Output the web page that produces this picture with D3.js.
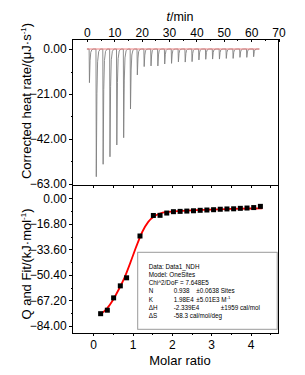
<!DOCTYPE html>
<html><head><meta charset="utf-8">
<script src="https://cdn.jsdelivr.net/npm/d3@7"></script>
<style>
body{margin:0;background:#fff}
svg{display:block}
text{font-family:"Liberation Sans",Arial,sans-serif;fill:#000}
.axis path,.axis line{stroke:#000;stroke-width:1;shape-rendering:crispEdges}
</style>
</head><body>
<svg id="c" width="305" height="375"></svg>
<script>
// ---------- data ----------
const injectionTimes = [0.8,3.3,5.8,8.3,10.8,13.3,15.8,18.3,20.8,23.3,25.8,28.3,30.8,33.3,35.8,38.3,40.8,43.3,45.8,48.3,50.8,53.3,55.8,58.3,60.8];
const peakDepths = [-15.7,-59.6,-53.8,-50.3,-44.8,-41.4,-28.0,-12.1,-8.2,-7.9,-7.9,-7.0,-6.7,-6.0,-6.1,-5.9,-5.1,-4.8,-4.7,-4.7,-4.4,-4.4,-3.9,-3.9,-3.6];
const baselineRange = [0, 63];
const molarRatio = [0.19,0.36,0.52,0.69,0.85,1.19,1.53,1.70,1.87,2.04,2.21,2.38,2.55,2.72,2.89,3.06,3.23,3.40,3.57,3.74,3.91,4.08,4.25];
const heatQ = [-75.9,-73.6,-65.5,-57.6,-52.3,-24.8,-11.3,-11.2,-9.7,-8.8,-8.6,-8.4,-8.2,-7.9,-7.7,-7.5,-7.2,-7.0,-6.9,-6.6,-6.4,-6.1,-5.3];
const fitRatio = [0.19,0.35,0.50,0.65,0.80,0.95,1.10,1.25,1.40,1.55,1.70,1.90,2.20,2.60,3.00,3.50,4.00,4.30];
const fitQ = [-76.2,-72.5,-67.0,-60.0,-52.0,-42.0,-31.5,-22.0,-15.5,-11.8,-10.0,-9.0,-8.3,-7.8,-7.4,-7.0,-6.7,-6.6];
const timeTicks = [0,10,20,30,40,50,60,70];
const timeMinor = [5,15,25,35,45,55,65];
const heatTicks = [0,-21,-42,-63];
const heatMinor = [-10.5,-31.5,-52.5];
const ratioTicks = [0,1,2,3,4];
const ratioMinor = [0.5,1.5,2.5,3.5,4.5];
const qTicks = [0,-16.8,-33.6,-50.4,-67.2,-84];
const qMinor = [-8.4,-25.2,-42,-58.8,-75.6];
const legendRows = [
  ["Data: Data1_NDH"],
  ["Model: OneSites"],
  ["Chi^2/DoF = 7.648E5"],
  ["N","0.938","±0.0638 Sites"],
  ["K","1.98E4","±5.01E3 M","-1"],
  ["ΔH","-2.339E4","","±1959 cal/mol"],
  ["ΔS","-58.3 cal/mol/deg"]
];
// peak profile template (relative time, fraction of depth) – rendering style
const peakShape = [[0,0],[0.12,1],[0.35,0.35],[0.6,0.1],[1.0,0.02],[1.6,0]];

// ---------- layout ----------
const svg = d3.select("#c");
const L = 72.7, R = 278.5, T1 = 39, B1 = 185, B2 = 333.3;

const xT = d3.scaleLinear().domain([-5.2, 70]).range([L, R]);
const yH = d3.scaleLinear().domain([4.67, -63.47]).range([T1, B1]);
const xR = d3.scaleLinear().domain([-0.52, 4.71]).range([L, R]);
const yQ = d3.scaleLinear().domain([8.75, -88.8]).range([B1, B2]);

const fmt2 = d3.format(".2f");

// frames
svg.append("rect").attr("x",L).attr("y",T1).attr("width",R-L).attr("height",B1-T1)
  .attr("fill","none").attr("stroke","#000").attr("shape-rendering","crispEdges");
svg.append("rect").attr("x",L).attr("y",B1).attr("width",R-L).attr("height",B2-B1)
  .attr("fill","none").attr("stroke","#000").attr("shape-rendering","crispEdges");

function ax(gen, tr){
  const g = svg.append("g").attr("class","axis").attr("transform",tr).call(gen);
  g.select(".domain").remove();
  g.selectAll("text").style("font-size","12px").style("font-family",'"Liberation Sans",Arial,sans-serif');
  return g;
}
// top panel axes (ticks pointing inward)
ax(d3.axisTop(xT).tickValues(timeTicks).tickSize(-3).tickPadding(2.5).tickFormat(d3.format("d")), `translate(0,${T1})`);
ax(d3.axisTop(xT).tickValues(timeMinor).tickSize(-2).tickFormat(""), `translate(0,${T1})`);
ax(d3.axisLeft(yH).tickValues(heatTicks).tickSize(4).tickPadding(2).tickFormat(fmt2), `translate(${L},0)`);
ax(d3.axisLeft(yH).tickValues(heatMinor).tickSize(2).tickFormat(""), `translate(${L},0)`);
// bottom panel axes
ax(d3.axisBottom(xR).tickValues(ratioTicks).tickSize(3).tickPadding(4.5).tickFormat(d3.format("d")), `translate(0,${B2})`);
ax(d3.axisBottom(xR).tickValues(ratioMinor).tickSize(2).tickFormat(""), `translate(0,${B2})`);
ax(d3.axisBottom(xR).tickValues(ratioTicks.concat(ratioMinor)).tickSize(3).tickFormat(""), `translate(0,${B1})`);
ax(d3.axisLeft(yQ).tickValues(qTicks).tickSize(4).tickPadding(2).tickFormat(fmt2), `translate(${L},0)`);
ax(d3.axisLeft(yQ).tickValues(qMinor).tickSize(2).tickFormat(""), `translate(${L},0)`);

// thermogram
const thermo = [[baselineRange[0],0]];
injectionTimes.forEach((t,i)=>{
  peakShape.forEach(([dt,f])=>thermo.push([t+dt, peakDepths[i]*f]));
});
thermo.push([baselineRange[1],0]);
const lineT = d3.line().x(d=>xT(d[0])).y(d=>yH(d[1]));
svg.append("path").attr("d",lineT(thermo)).attr("fill","none").attr("stroke","#808080").attr("stroke-width",0.9);
svg.append("path").attr("d",lineT(baselineRange.map(t=>[t,0]))).attr("fill","none").attr("stroke","#f08080").attr("stroke-width",1);

// fit
const fitPts = fitRatio.map((r,i)=>[r,fitQ[i]]);
svg.append("path").attr("d",d3.line().x(d=>xR(d[0])).y(d=>yQ(d[1])).curve(d3.curveMonotoneX)(fitPts))
  .attr("fill","none").attr("stroke","#ff0000").attr("stroke-width",1.8);
// points
const S = 5;
svg.append("g").selectAll("rect").data(molarRatio.map((r,i)=>[r,heatQ[i]])).join("rect")
  .attr("x",d=>xR(d[0])-S/2).attr("y",d=>yQ(d[1])-S/2).attr("width",S).attr("height",S).attr("fill","#000");

// legend box
const bx = 137.7, by = 252.3, bw = 139.5, bh = 77;
svg.append("rect").attr("x",bx).attr("y",by).attr("width",bw).attr("height",bh)
  .attr("fill","#fff").attr("stroke","#9a9a9a").attr("stroke-width",1);
const cols = [11, 36, 58.5, 83];
const lg = svg.append("g").style("font-size","6.3px");
legendRows.forEach((row,i)=>{
  const y = by + 16.3 + i*8.25;
  lg.append("text").attr("x",bx+cols[0]).attr("y",y).text(row[0]);
  if(row.length>1){
    lg.append("text").attr("x",bx+cols[1]).attr("y",y).text(row[1]);
    if(row[2]){
      const t = lg.append("text").attr("x",bx+cols[2]).attr("y",y).text(row[2]);
      if(row[3]) t.append("tspan").attr("dy",-2.5).style("font-size","4.3px").text(row[3]);
    } else if(row[3]){
      lg.append("text").attr("x",bx+cols[3]).attr("y",y).text(row[3]);
    }
  }
});

// axis titles
const tt = svg.append("text").attr("x",180).attr("y",21).attr("text-anchor","middle").style("font-size","12.5px");
tt.append("tspan").style("font-style","italic").text("t");
tt.append("tspan").text("/min");

svg.append("text").attr("x",180).attr("y",365).attr("text-anchor","middle").style("font-size","13px").text("Molar ratio");

function ylab(cx, cy, main, unitA, sup, unitB){
  const t = svg.append("text").attr("transform",`translate(${cx},${cy}) rotate(-90)`)
    .attr("text-anchor","middle").style("font-size","13px");
  t.append("tspan").text(main + unitA);
  t.append("tspan").attr("dy",-5).style("font-size","8px").text(sup);
  t.append("tspan").attr("dy",5).text(unitB);
}
ylab(30.5, 101, "Corrected heat rate/", "(μJ·s", "-1", ")");
ylab(30.5, 264, "Q and Fit/", "(kJ·mol", "-1", ")");
</script>
</body></html>
